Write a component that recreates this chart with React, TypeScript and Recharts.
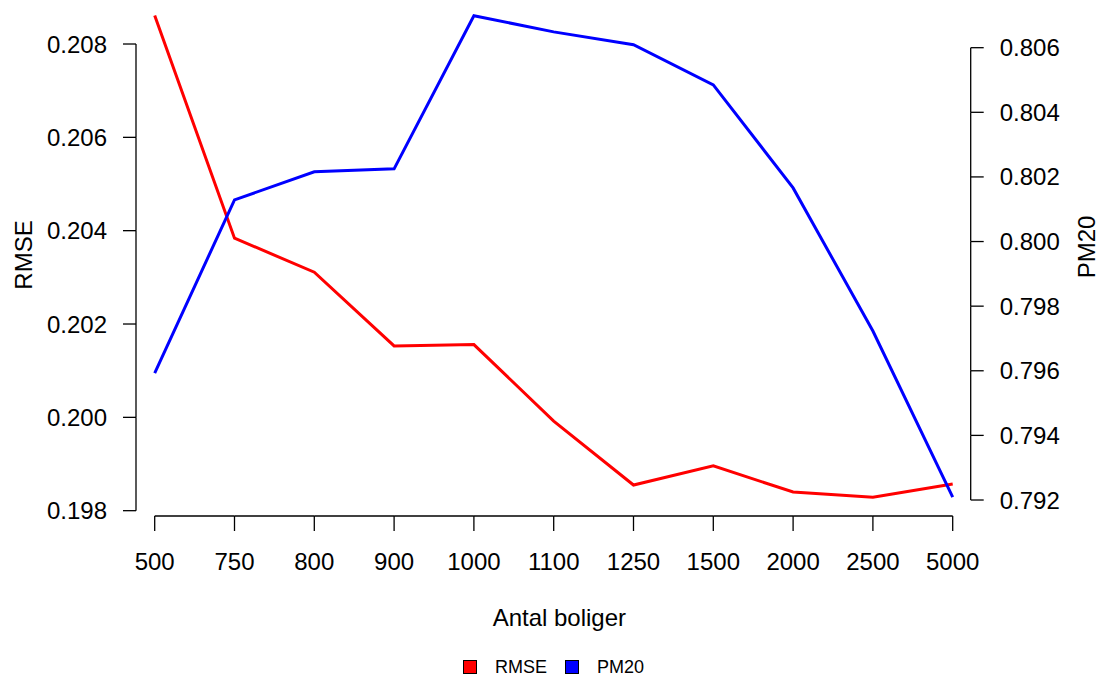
import React from 'react';
import { LineChart, Line, XAxis, YAxis, Legend } from 'recharts';

const categories = ['500', '750', '800', '900', '1000', '1100', '1250', '1500', '2000', '2500', '5000'];
const rmseValues = [0.20861, 0.20384, 0.20311, 0.20153, 0.20156, 0.19992, 0.19855, 0.19896, 0.1984, 0.19829, 0.19857];
const pm20Values = [0.79593, 0.80129, 0.80216, 0.80225, 0.80699, 0.80649, 0.80609, 0.80485, 0.80166, 0.79723, 0.79209];
const rmseTicks = [0.198, 0.2, 0.202, 0.204, 0.206, 0.208];
const pm20Ticks = [0.792, 0.794, 0.796, 0.798, 0.8, 0.802, 0.804, 0.806];
const seriesOrder = ['RMSE', 'PM20'];

const data = categories.map((n, i) => ({ n, RMSE: rmseValues[i], PM20: pm20Values[i] }));

// layout (R base-graphics look)
const W = 1098;
const H = 675;
const LEFT_W = 136;
const RIGHT_W = 127.3;
const XAXIS_H = 159;
const PAD_L = 18.7;
const PAD_R = 18;
const PLOT_BOTTOM = H - XAXIS_H;
const PLOT_H = PLOT_BOTTOM;
const leftDomain: [number, number] = [0.197886, 0.208943];
const rightDomain: [number, number] = [0.791505, 0.807476];
const FONT = '"Liberation Sans", Arial, sans-serif';

const xStep = (W - LEFT_W - RIGHT_W - PAD_L - PAD_R) / (categories.length - 1);
const leftStep = (PLOT_H * 0.002) / (leftDomain[1] - leftDomain[0]);
const rightStep = (PLOT_H * 0.002) / (rightDomain[1] - rightDomain[0]);

const LeftTick = (props: any) => {
    const y = props.payload.coordinate;
    const v = props.payload.value;
    const ax = LEFT_W;
    return (
        <g>
            <line x1={ax - 13} y1={y} x2={ax} y2={y} stroke="#000" strokeWidth={1.3} />
            {v < rmseTicks[rmseTicks.length - 1] - 1e-9 && (
                <line x1={ax} y1={y} x2={ax} y2={y - leftStep} stroke="#000" strokeWidth={1.3} />
            )}
            <text x={ax - 29} y={y} textAnchor="end" dominantBaseline="central" fontSize={24} fontFamily={FONT} fill="#000">
                {Number(v).toFixed(3)}
            </text>
        </g>
    );
};

const RightTick = (props: any) => {
    const y = props.payload.coordinate;
    const v = props.payload.value;
    const ax = W - RIGHT_W;
    return (
        <g>
            <line x1={ax} y1={y} x2={ax + 13} y2={y} stroke="#000" strokeWidth={1.3} />
            {v < pm20Ticks[pm20Ticks.length - 1] - 1e-9 && (
                <line x1={ax} y1={y} x2={ax} y2={y - rightStep} stroke="#000" strokeWidth={1.3} />
            )}
            <text x={ax + 29} y={y} textAnchor="start" dominantBaseline="central" fontSize={24} fontFamily={FONT} fill="#000">
                {Number(v).toFixed(3)}
            </text>
        </g>
    );
};

const BottomTick = (props: any) => {
    const x = props.payload.coordinate;
    const v = props.payload.value;
    return (
        <g>
            <line x1={x} y1={PLOT_BOTTOM} x2={x} y2={PLOT_BOTTOM + 15} stroke="#000" strokeWidth={1.3} />
            {v !== categories[categories.length - 1] && (
                <line x1={x} y1={PLOT_BOTTOM} x2={x + xStep} y2={PLOT_BOTTOM} stroke="#000" strokeWidth={1.3} />
            )}
            <text x={x} y={570} textAnchor="middle" fontSize={24} fontFamily={FONT} fill="#000">
                {v}
            </text>
        </g>
    );
};

const renderLegend = (props: any) => {
    const items = [...(props.payload || [])].sort(
        (a: any, b: any) => seriesOrder.indexOf(a.value) - seriesOrder.indexOf(b.value)
    );
    return (
        <div style={{ display: 'flex', alignItems: 'center', paddingLeft: 463, fontFamily: FONT, fontSize: 18, height: 24 }}>
            {items.map((it: any) => (
                <div key={it.value} style={{ display: 'flex', alignItems: 'center', marginRight: 18 }}>
                    <span style={{ display: 'inline-block', width: 12, height: 12, background: it.color, border: '1px solid #000', marginRight: 18 }} />
                    <span style={{ color: '#000' }}>{it.value}</span>
                </div>
            ))}
        </div>
    );
};

const App: React.FC = () => {
    return (
        <div style={{ position: 'absolute', left: 0, top: 0, background: '#fff' }}>
            <LineChart width={W} height={H} data={data} margin={{ top: 0, right: 0, bottom: 0, left: 0 }}>
                <XAxis
                    dataKey="n"
                    height={XAXIS_H}
                    padding={{ left: PAD_L, right: PAD_R }}
                    axisLine={false}
                    tickLine={false}
                    interval={0}
                    tick={BottomTick}
                    label={{
                        content: (p: any) => (
                            <text x={p.viewBox.x + p.viewBox.width / 2 + 6} y={626} textAnchor="middle" fontSize={24} fontFamily={FONT} fill="#000">
                                Antal boliger
                            </text>
                        ),
                    }}
                />
                <YAxis
                    yAxisId="left"
                    orientation="left"
                    width={LEFT_W}
                    domain={leftDomain}
                    allowDataOverflow
                    ticks={rmseTicks}
                    interval={0}
                    axisLine={false}
                    tickLine={false}
                    tick={LeftTick}
                    label={{
                        content: () => (
                            <text x={23} y={255} transform="rotate(-90 23 255)" textAnchor="middle" dominantBaseline="central" fontSize={24} fontFamily={FONT} fill="#000">
                                RMSE
                            </text>
                        ),
                    }}
                />
                <YAxis
                    yAxisId="right"
                    orientation="right"
                    width={RIGHT_W}
                    domain={rightDomain}
                    allowDataOverflow
                    ticks={pm20Ticks}
                    interval={0}
                    axisLine={false}
                    tickLine={false}
                    tick={RightTick}
                    label={{
                        content: () => (
                            <text x={1086} y={247} transform="rotate(-90 1086 247)" textAnchor="middle" dominantBaseline="central" fontSize={24} fontFamily={FONT} fill="#000">
                                PM20
                            </text>
                        ),
                    }}
                />
                <Legend
                    layout="horizontal"
                    verticalAlign="middle"
                    align="center"
                    content={renderLegend}
                    wrapperStyle={{ top: 655, left: 0, width: W }}
                />
                <Line yAxisId="left" type="linear" dataKey="RMSE" name="RMSE" stroke="#ff0000" strokeWidth={3} dot={false} isAnimationActive={false} />
                <Line yAxisId="right" type="linear" dataKey="PM20" name="PM20" stroke="#0000ff" strokeWidth={3} dot={false} isAnimationActive={false} />
            </LineChart>
        </div>
    );
};

export default App;
